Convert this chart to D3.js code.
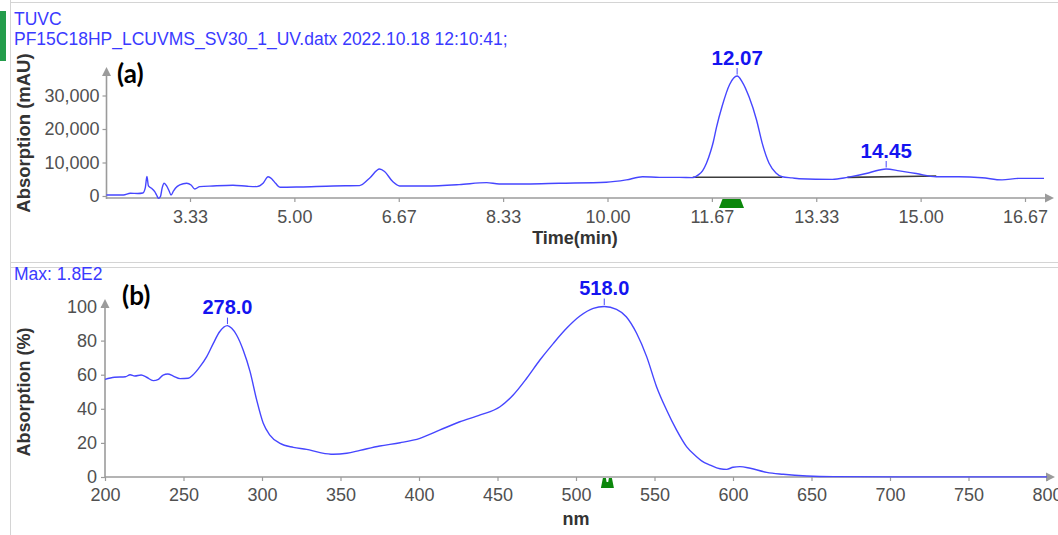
<!DOCTYPE html>
<html>
<head>
<meta charset="utf-8">
<script src="https://cdn.jsdelivr.net/npm/d3@7"></script>
<style>
  html, body { margin: 0; padding: 0; background: #fff; }
  svg { display: block; }
</style>
</head>
<body>
<svg id="chart" width="1058" height="535"></svg>
<script>
// ---- (a) UV chromatogram: retention time (min) vs absorption (mAU) ----
const timeA = [2.00, 2.27, 2.38, 2.50, 2.58, 2.62, 2.645, 2.67, 2.72, 2.77, 2.80, 2.83, 2.86, 2.89, 2.92, 2.96,
  3.00, 3.03, 3.07, 3.10, 3.17, 3.28, 3.35, 3.41, 3.49, 3.70, 4.02, 4.25, 4.40, 4.50, 4.58, 4.64, 4.70, 4.77,
  5.09, 5.62, 6.04, 6.20, 6.36, 6.44, 6.57, 6.68, 7.10, 7.63, 8.07, 8.27, 8.70, 9.23, 9.98, 10.30, 10.56,
  10.83, 11.15, 11.36, 11.45, 11.52, 11.58, 11.65, 11.69, 11.74, 11.83, 11.95, 12.07, 12.15, 12.26, 12.38,
  12.47, 12.58, 12.69, 12.79, 12.95, 13.06, 13.59, 13.83, 14.13, 14.34, 14.45, 14.66, 14.93, 15.25, 15.61,
  15.98, 16.30, 16.57, 16.97];
const absA = [300, 300, 800, 750, 900, 2500, 5800, 3000, 2300, 1300, 300, -700, -200, 2500, 3800, 3000,
  1500, 300, 1500, 2300, 3300, 3800, 3300, 2100, 2800, 3000, 3200, 2900, 2800, 3800, 5760, 5100, 3800, 2600,
  2700, 3000, 3100, 5300, 8060, 7300, 4300, 3000, 3000, 3400, 4000, 3600, 3600, 3800, 4100, 4800, 5760,
  5560, 5560, 5500, 6300, 7600, 9800, 13500, 16200, 20500, 26800, 33300, 35800, 34100, 29600, 22700,
  15800, 9800, 6900, 5760, 5400, 5160, 4960, 5560, 6700, 7760, 8060, 7500, 6700, 5760, 5760,
  5460, 4800, 5260, 5260];
const peakTimesA = [12.07, 14.45];
const baseStartA = [[11.36, 5600], [13.83, 5560]];
const baseEndA = [[12.79, 5600], [15.25, 5950]];
const markerTimeA = 11.98;
const xTicksA = [10 / 3, 5, 20 / 3, 25 / 3, 10, 35 / 3, 40 / 3, 15, 50 / 3];
const yTicksA = [0, 10000, 20000, 30000];

// ---- (b) UV spectrum at the selected time: wavelength (nm) vs relative absorption (%) ----
const nmB = [200, 206, 213, 216, 219, 223, 226.5, 230.7, 234, 237, 240, 243.5, 247.8, 253, 256, 260.5, 264.8,
  269, 273, 278, 280.7, 283.8, 288, 292.4, 296.6, 300.8, 305, 311.5, 320, 328.4, 337, 345.4, 354, 362.4,
  375, 388, 400.6, 413.4, 426, 439, 451.6, 460, 468.6, 477, 485.6, 494, 502.5, 511, 518, 525.8, 532,
  538.6, 545, 551.3, 557.7, 564, 570.4, 576.8, 580, 585.4, 591.7, 596, 600, 604.4, 611, 621.5, 632, 647,
  664, 706, 800];
const absB = [57.3, 58.5, 58.8, 60, 59.2, 59.8, 58.5, 56.5, 57.3, 59.8, 60.4, 59.2, 57.7, 57.9, 59.8, 64.7, 70.6,
  78.4, 85.2, 88.8, 87.2, 83.3, 74.5, 61.8, 45.2, 31.5, 24.6, 19.7, 17.4, 16.2, 14.3, 13.3, 13.9, 15.6,
  18.2, 20.1, 22.7, 27.6, 32.4, 36.4, 41.2, 48.1, 57.9, 68.6, 78.4, 87.2, 94.4, 98.9, 100, 98.3, 94,
  84.3, 70.6, 53, 39.3, 27.6, 17.8, 11.9, 9.5, 7, 4.8, 4.5, 5.7, 6.1, 5.1, 2.7, 1.6, 0.6,
  0.2, 0.1, 0.1];
const peakNmB = [278, 518];
const markerNmB = 520;
const xTicksB = [200, 250, 300, 350, 400, 450, 500, 550, 600, 650, 700, 750, 800];
const yTicksB = [0, 20, 40, 60, 80, 100];

const titleLines = ["TUVC", "PF15C18HP_LCUVMS_SV30_1_UV.datx 2022.10.18 12:10:41;"];
const spectrumNote = "Max: 1.8E2";

// ---- styles ----
const FONT = "'Liberation Sans', Arial, sans-serif";
const AXIS = "#9b9b9b";
const TICKTXT = "#505050";
const TRACE = "#4646ff";
const LABEL = "#1414f0";
const NOTE = "#3a3aff";
const GREEN = "#0b870b";

const svg = d3.select("#chart").style("font-family", FONT);

// panel frames
const frame = svg.append("g").attr("stroke", "#d4d4d4").attr("stroke-width", 1);
frame.append("line").attr("x1", 10.5).attr("x2", 10.5).attr("y1", 0).attr("y2", 535);
[2.5, 262.5, 267.5].forEach(yy =>
  frame.append("line").attr("x1", 10).attr("x2", 1058).attr("y1", yy).attr("y2", yy));
svg.append("rect").attr("x", 0).attr("y", 11).attr("width", 6).attr("height", 50).attr("fill", "#239c4b");

// header text
svg.append("g").selectAll("text").data(titleLines).join("text")
  .attr("x", 14).attr("y", (d, i) => 25 + i * 20)
  .attr("font-size", 17.5).attr("fill", NOTE).text(d => d);
svg.append("text").attr("x", 14).attr("y", 280).attr("font-size", 17.5).attr("fill", NOTE).text(spectrumNote);

function styleAxis(g) {
  g.select(".domain").remove();
  g.selectAll(".tick line").attr("stroke", AXIS).attr("stroke-width", 1.2);
  g.selectAll(".tick text").attr("fill", TICKTXT).attr("font-size", 18).attr("font-family", FONT);
}

function arrowAxes(x0, yBase, xEnd, yTop) {
  const g = svg.append("g");
  g.append("line").attr("x1", x0).attr("x2", xEnd - 6).attr("y1", yBase).attr("y2", yBase)
    .attr("stroke", AXIS).attr("stroke-width", 1.6);
  g.append("path").attr("d", `M${xEnd},${yBase}L${xEnd - 9},${yBase - 4.5}L${xEnd - 9},${yBase + 4.5}Z`).attr("fill", AXIS);
  g.append("line").attr("x1", x0).attr("x2", x0).attr("y1", yBase + 1).attr("y2", yTop + 6)
    .attr("stroke", AXIS).attr("stroke-width", 1.6);
  g.append("path").attr("d", `M${x0},${yTop}L${x0 - 4.5},${yTop + 9}L${x0 + 4.5},${yTop + 9}Z`).attr("fill", AXIS);
}

// ================= panel (a) =================
const xA = d3.scaleLinear().domain([10 / 3, 50 / 3]).range([190, 1025]);
const yA = d3.scaleLinear().domain([0, 30000]).range([196, 95.5]);
const axisYA = 198;
const tMinA = 2.0;

svg.append("g").attr("transform", `translate(0,${axisYA})`)
  .call(d3.axisBottom(xA).tickValues(xTicksA).tickFormat(d3.format(".2f")).tickSize(4).tickPadding(8))
  .call(styleAxis);
svg.append("g").attr("transform", `translate(${xA(tMinA)},0)`)
  .call(d3.axisLeft(yA).tickValues(yTicksA).tickFormat(d3.format(",")).tickSize(4).tickPadding(3))
  .call(styleAxis);
arrowAxes(xA(tMinA), axisYA, 1054, 67);

// integration baselines
svg.append("g").selectAll("line").data(baseStartA).join("line")
  .attr("x1", d => xA(d[0])).attr("y1", d => yA(d[1]))
  .attr("x2", (d, i) => xA(baseEndA[i][0])).attr("y2", (d, i) => yA(baseEndA[i][1]))
  .attr("stroke", "#3c3c3c").attr("stroke-width", 1.6);

const seriesA = timeA.map((t, i) => [t, absA[i]]);
svg.append("path").datum(seriesA)
  .attr("d", d3.line().x(d => xA(d[0])).y(d => yA(d[1])).curve(d3.curveMonotoneX))
  .attr("fill", "none").attr("stroke", TRACE).attr("stroke-width", 1.4);

// peak labels
const peaksA = peakTimesA.map(t => seriesA.find(d => Math.abs(d[0] - t) < 1e-6));
const pa = svg.append("g").selectAll("g").data(peaksA).join("g")
  .attr("transform", d => `translate(${xA(d[0])},${yA(d[1])})`);
pa.append("line").attr("y1", -1.5).attr("y2", -8).attr("stroke", TRACE).attr("stroke-width", 1);
pa.append("text").attr("y", -11).attr("text-anchor", "middle").attr("font-size", 20.5)
  .attr("font-weight", "bold").attr("fill", LABEL).text(d => d[0].toFixed(2));

// selected-time marker
svg.append("path")
  .attr("transform", `translate(${xA(markerTimeA)},${axisYA})`)
  .attr("d", "M-9,1L9,1L12.5,10L-12.5,10Z").attr("fill", GREEN);

// titles
svg.append("text").attr("x", 575).attr("y", 244).attr("text-anchor", "middle")
  .attr("font-size", 18).attr("font-weight", "bold").attr("fill", "#333").text("Time(min)");
svg.append("text").attr("transform", "translate(30,133) rotate(-90)").attr("text-anchor", "middle")
  .attr("font-size", 18.5).attr("font-weight", "bold").attr("fill", "#333").text("Absorption (mAU)");
svg.append("text").attr("x", 117).attr("y", 83).attr("font-family", "Lato, 'Open Sans', sans-serif")
  .attr("font-size", 26).attr("font-weight", "bold").attr("fill", "#000").text("(a)");

// ================= panel (b) =================
const xB = d3.scaleLinear().domain([200, 800]).range([105, 1047]);
const yB = d3.scaleLinear().domain([0, 100]).range([477, 306.5]);
const axisYB = yB(0);

svg.append("g").attr("transform", `translate(0,${axisYB})`)
  .call(d3.axisBottom(xB).tickValues(xTicksB).tickFormat(d3.format("d")).tickSize(4).tickPadding(7))
  .call(styleAxis);
svg.append("g").attr("transform", `translate(${xB(200)},0)`)
  .call(d3.axisLeft(yB).tickValues(yTicksB).tickFormat(d3.format("d")).tickSize(4).tickPadding(4))
  .call(styleAxis);
arrowAxes(xB(200), axisYB, 1055, 299);

const seriesB = nmB.map((n, i) => [n, absB[i]]);
svg.append("path").datum(seriesB)
  .attr("d", d3.line().x(d => xB(d[0])).y(d => yB(d[1])).curve(d3.curveMonotoneX))
  .attr("fill", "none").attr("stroke", TRACE).attr("stroke-width", 1.4);

const peaksB = peakNmB.map(n => seriesB.find(d => d[0] === n));
const pb = svg.append("g").selectAll("g").data(peaksB).join("g")
  .attr("transform", d => `translate(${xB(d[0])},${yB(d[1])})`);
pb.append("line").attr("y1", -1.5).attr("y2", -8).attr("stroke", TRACE).attr("stroke-width", 1);
pb.append("text").attr("y", -12).attr("text-anchor", "middle").attr("font-size", 20)
  .attr("font-weight", "bold").attr("fill", LABEL).text(d => d[0].toFixed(1));

svg.append("path")
  .attr("transform", `translate(${xB(markerNmB)},${axisYB})`)
  .attr("d", "M-6.5,11L-4.5,1L-1.5,1L-0.8,5L0.8,5L1.5,1L4.5,1L6.5,11Z").attr("fill", GREEN);

svg.append("text").attr("x", 576).attr("y", 525).attr("text-anchor", "middle")
  .attr("font-size", 18).attr("font-weight", "bold").attr("fill", "#333").text("nm");
svg.append("text").attr("transform", "translate(30,392) rotate(-90)").attr("text-anchor", "middle")
  .attr("font-size", 18).attr("font-weight", "bold").attr("fill", "#333").text("Absorption (%)");
svg.append("text").attr("x", 122).attr("y", 305).attr("font-family", "Lato, 'Open Sans', sans-serif")
  .attr("font-size", 26).attr("font-weight", "bold").attr("fill", "#000").text("(b)");
</script>
</body>
</html>
